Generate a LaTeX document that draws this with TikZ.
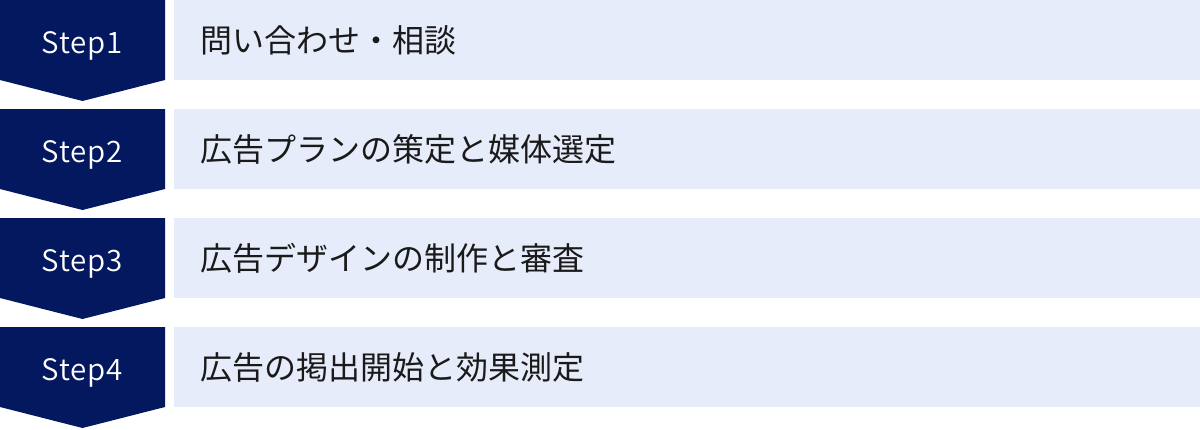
\documentclass[tikz,border=0pt]{standalone}
\usepackage{fontspec}
\setmainfont{Noto Sans CJK JP}
\newfontfamily\steplabelfont[LetterSpace=3]{Noto Sans CJK JP DemiLight}
\usepackage{tikz}
\definecolor{navy}{RGB}{4,24,96}
\definecolor{lblue}{RGB}{230,236,250}
\definecolor{ink}{RGB}{26,26,26}
\tikzstyle{stepshape}=[fill=navy]
\tikzstyle{steplabel}=[text=white,font=\steplabelfont\fontsize{29.5}{34}\selectfont,inner sep=0pt,anchor=base]
\tikzstyle{bar}=[rectangle,fill=lblue,anchor=north west,minimum height=80pt,text width=974pt,inner xsep=26pt,align=left,text=ink,font=\fontsize{32}{36}\selectfont]

\begin{document}
\begin{tikzpicture}[x=1pt,y=-1pt]
	\useasboundingbox (0,0) rectangle (1200,429);
	% step arrows
	\fill [style=stepshape] (0,0) -- (165,0) -- (165,80) -- (82.5,101) -- (0,80) -- cycle;
	\fill [style=stepshape] (0,109) -- (165,109) -- (165,189) -- (82.5,210) -- (0,189) -- cycle;
	\fill [style=stepshape] (0,218) -- (165,218) -- (165,298) -- (82.5,319) -- (0,298) -- cycle;
	\fill [style=stepshape] (0,327) -- (165,327) -- (165,407) -- (82.5,428) -- (0,407) -- cycle;
	\node [style=steplabel] (s1) at (82.5,53) {Step1};
	\node [style=steplabel] (s2) at (82.5,162) {Step2};
	\node [style=steplabel] (s3) at (82.5,271) {Step3};
	\node [style=steplabel] (s4) at (82.5,380) {Step4};
	% bars
	\node [style=bar] (b1) at (174,0) {問い合わせ・相談};
	\node [style=bar] (b2) at (174,109) {広告プランの策定と媒体選定};
	\node [style=bar] (b3) at (174,218) {広告デザインの制作と審査};
	\node [style=bar] (b4) at (174,327) {広告の掲出開始と効果測定};
\end{tikzpicture}
\end{document}
